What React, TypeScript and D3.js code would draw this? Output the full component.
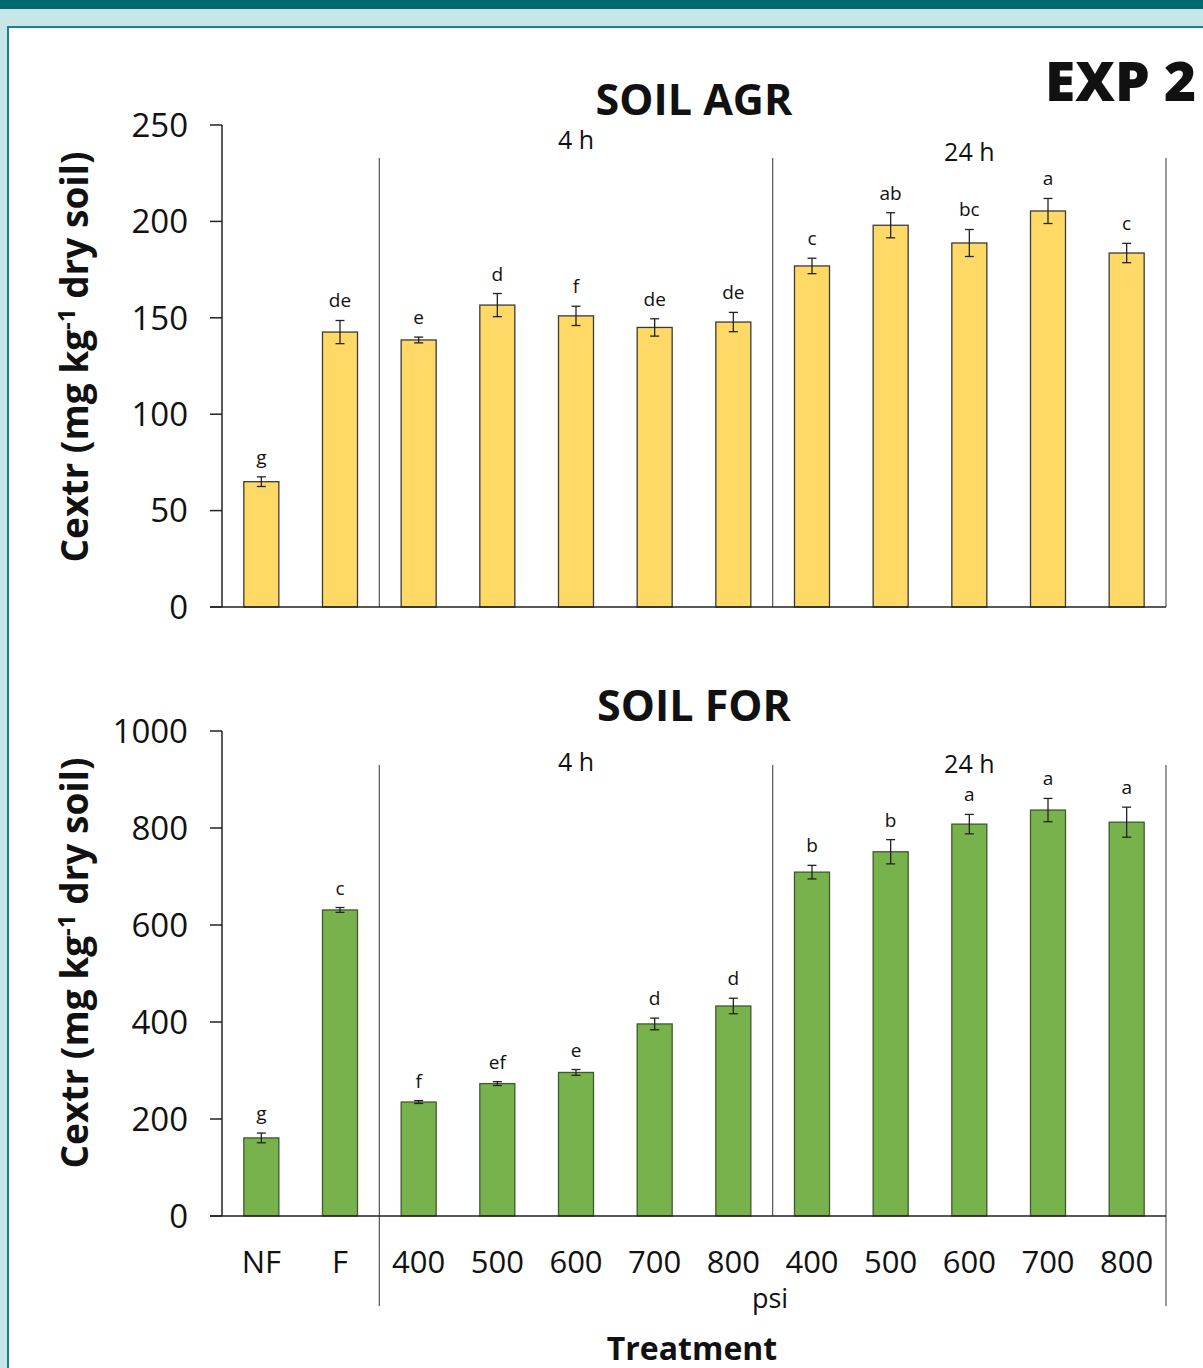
import React from "react";
import * as d3 from "d3";

const categories = ["NF", "F", "400", "500", "600", "700", "800", "400", "500", "600", "700", "800"];
const groupLabels = ["4 h", "24 h"];
const groupBounds = [[2, 7], [7, 12]];

const agrMean = [65, 142.6, 138.5, 156.6, 151, 145, 147.8, 176.9, 198, 188.8, 205.4, 183.6];
const agrErr = [2.5, 6, 1.5, 6, 5, 4.5, 5, 4, 6.5, 7, 6.5, 5];
const agrLetters = ["g", "de", "e", "d", "f", "de", "de", "c", "ab", "bc", "a", "c"];
const agrTicks = [0, 50, 100, 150, 200, 250];

const forMean = [161, 631, 235, 273, 296, 396, 433, 709, 751, 808, 837, 812];
const forErr = [10, 5, 3, 4, 6, 12, 16, 14, 25, 20, 24, 31];
const forLetters = ["g", "c", "f", "ef", "e", "d", "d", "b", "b", "a", "a", "a"];
const forTicks = [0, 200, 400, 600, 800, 1000];

const FONT = "'Open Sans', 'Noto Sans', sans-serif";
const X0 = 222;
const X1 = 1166;

const ids = categories.map((_, i) => String(i));
const x = d3.scaleBand<string>().domain(ids).range([X0, X1]).paddingInner(0.555).paddingOuter(0.2775);
const step = x.step();
const boundary = (k: number) => X0 + step * k;

type PanelProps = {
  title: string;
  titleY: number;
  top: number;
  bottom: number;
  max: number;
  ticks: number[];
  means: number[];
  errs: number[];
  letters: string[];
  fill: string;
  stroke: string;
  sepTop: number;
  sepBottom: number;
  groupY: number[];
  labelCenter: number;
};

function Panel(p: PanelProps) {
  const y = d3.scaleLinear().domain([0, p.max]).range([p.bottom, p.top]);
  return (
    <g>
      <text x={694} y={p.titleY} textAnchor="middle" fontFamily={FONT} fontWeight={700} fontSize={43} fill="#111">
        {p.title}
      </text>
      <line x1={X0} x2={X0} y1={p.top} y2={p.bottom} stroke="#222" strokeWidth={1.5} />
      {p.ticks.map((t) => (
        <g key={t}>
          <line x1={X0 - 12} x2={X0} y1={y(t)} y2={y(t)} stroke="#222" strokeWidth={1.5} />
          <text x={188} y={y(t)} dy="0.36em" textAnchor="end" fontFamily={FONT} fontSize={33} fill="#111">
            {t}
          </text>
        </g>
      ))}
      <text
        transform={`translate(88,${p.labelCenter}) rotate(-90)`}
        textAnchor="middle"
        fontFamily={FONT}
        fontWeight={700}
        fontSize={37}
        fill="#111"
      >
        Cextr (mg kg
        <tspan dy={-13} fontSize={24}>-1</tspan>
        <tspan dy={13}> dry soil)</tspan>
      </text>
      <line x1={boundary(2)} x2={boundary(2)} y1={p.sepTop} y2={p.sepBottom} stroke="#555" strokeWidth={1.2} />
      <line x1={boundary(7)} x2={boundary(7)} y1={p.sepTop} y2={p.bottom} stroke="#555" strokeWidth={1.2} />
      <line x1={boundary(12)} x2={boundary(12)} y1={p.sepTop} y2={p.sepBottom} stroke="#555" strokeWidth={1.2} />
      {groupLabels.map((g, gi) => {
        const [a, b] = groupBounds[gi];
        return (
          <text key={g} x={(boundary(a) + boundary(b)) / 2} y={p.groupY[gi]} dy="0.36em" textAnchor="middle" fontFamily={FONT} fontSize={25} fill="#111">
            {g}
          </text>
        );
      })}
      {p.means.map((m, i) => {
        const bx = x(ids[i])!;
        const bw = x.bandwidth();
        const cx = bx + bw / 2;
        const yt = y(m + p.errs[i]);
        const yb = y(m - p.errs[i]);
        return (
          <g key={i}>
            <rect x={bx} y={y(m)} width={bw} height={p.bottom - y(m)} fill={p.fill} stroke={p.stroke} strokeWidth={1.3} />
            <line x1={cx} x2={cx} y1={yt} y2={yb} stroke="#222" strokeWidth={1.3} />
            <line x1={cx - 4.5} x2={cx + 4.5} y1={yt} y2={yt} stroke="#222" strokeWidth={1.3} />
            <line x1={cx - 4.5} x2={cx + 4.5} y1={yb} y2={yb} stroke="#222" strokeWidth={1.3} />
            <text x={cx} y={yt - 13} textAnchor="middle" fontFamily={FONT} fontSize={19} fill="#111">
              {p.letters[i]}
            </text>
          </g>
        );
      })}
      <line x1={X0 - 12} x2={X1} y1={p.bottom} y2={p.bottom} stroke="#222" strokeWidth={1.5} />
    </g>
  );
}

export default function App() {
  return (
    <svg width={1203} height={1368} style={{ position: "absolute", left: 0, top: 0, display: "block" }}>
      <rect x={0} y={0} width={1203} height={1368} fill="#C6E6E8" />
      <rect x={0} y={0} width={1203} height={9} fill="#006A73" />
      <rect x={8} y={27} width={1210} height={1360} fill="#ffffff" stroke="#1F7F86" strokeWidth={2} />
      <text x={1045} y={101} fontFamily={FONT} fontWeight={800} fontSize={55} fill="#111">
        EXP 2
      </text>
      <Panel
        title="SOIL AGR"
        titleY={115}
        top={125}
        bottom={607}
        max={250}
        ticks={agrTicks}
        means={agrMean}
        errs={agrErr}
        letters={agrLetters}
        fill="#FFD966"
        stroke="#3a3a3a"
        sepTop={158}
        sepBottom={607}
        groupY={[140, 152]}
        labelCenter={357}
      />
      <Panel
        title="SOIL FOR"
        titleY={721}
        top={731}
        bottom={1216}
        max={1000}
        ticks={forTicks}
        means={forMean}
        errs={forErr}
        letters={forLetters}
        fill="#77B24C"
        stroke="#3f5a2a"
        sepTop={765}
        sepBottom={1306}
        groupY={[762, 764]}
        labelCenter={963}
      />
      {categories.map((c, i) => (
        <text key={i} x={x(ids[i])! + x.bandwidth() / 2} y={1262} dy="0.36em" textAnchor="middle" fontFamily={FONT} fontSize={31} fill="#111">
          {c}
        </text>
      ))}
      <text x={770} y={1298} dy="0.36em" textAnchor="middle" fontFamily={FONT} fontSize={27} fill="#111">
        psi
      </text>
      <text x={692} y={1360} textAnchor="middle" fontFamily={FONT} fontWeight={700} fontSize={32} fill="#111">
        Treatment
      </text>
    </svg>
  );
}
